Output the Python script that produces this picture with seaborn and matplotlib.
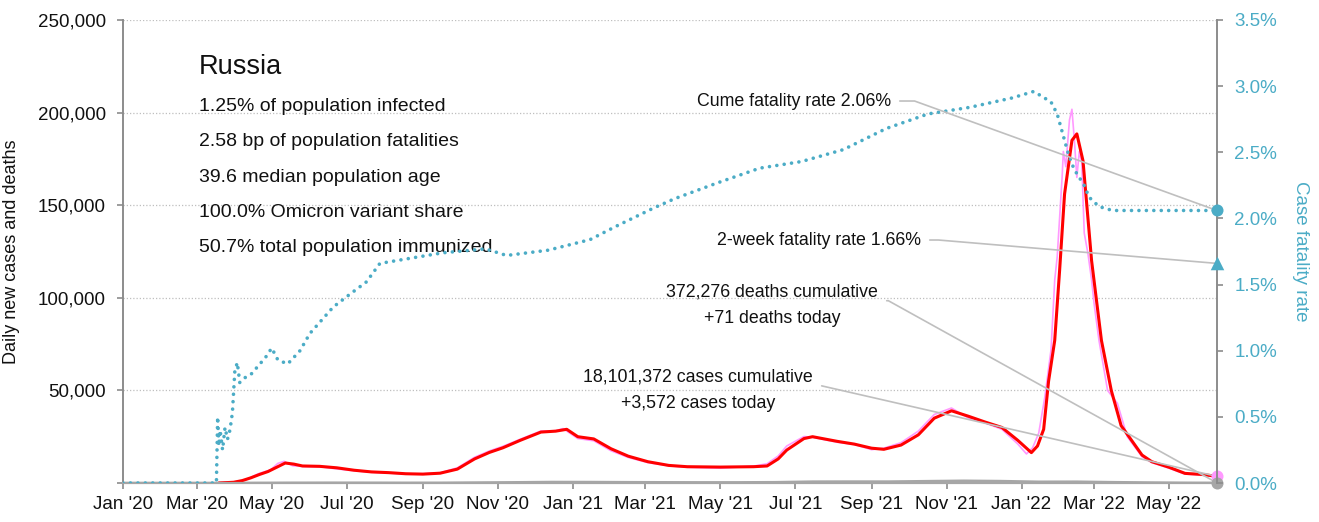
import matplotlib
matplotlib.use("Agg")
import matplotlib.pyplot as plt
import matplotlib.ticker as mticker
import matplotlib.dates as mdates
import pandas as pd
import seaborn as sns

# ---------------- data ----------------
country = "Russia"
stat_lines = [
    "1.25% of population infected",
    "2.58 bp of population fatalities",
    "39.6 median population age",
    "100.0% Omicron variant share",
    "50.7% total population immunized",
]

# 7-day average of daily new cases
avg_dates = [
    "2020-03-19", "2020-03-31", "2020-04-07", "2020-04-14", "2020-04-21", "2020-04-28",
    "2020-05-05", "2020-05-12", "2020-05-19", "2020-05-26", "2020-06-09", "2020-06-23",
    "2020-07-07", "2020-07-21", "2020-08-04", "2020-08-18", "2020-09-01", "2020-09-15",
    "2020-09-29", "2020-10-13", "2020-10-25", "2020-11-05", "2020-11-19", "2020-12-06",
    "2020-12-18", "2020-12-27", "2021-01-05", "2021-01-18", "2021-02-01", "2021-02-15",
    "2021-03-03", "2021-03-20", "2021-04-04", "2021-05-01", "2021-05-28", "2021-06-08",
    "2021-06-17", "2021-06-24", "2021-07-08", "2021-07-15", "2021-08-04", "2021-08-18",
    "2021-09-01", "2021-09-11", "2021-09-25", "2021-10-09", "2021-10-22", "2021-11-05",
    "2021-11-19", "2021-12-02", "2021-12-16", "2021-12-29", "2022-01-09", "2022-01-14",
    "2022-01-19", "2022-01-23", "2022-01-28", "2022-02-01", "2022-02-05", "2022-02-11",
    "2022-02-15", "2022-02-20", "2022-02-27", "2022-03-07", "2022-03-15", "2022-03-23",
    "2022-04-09", "2022-04-17", "2022-05-01", "2022-05-14", "2022-05-28", "2022-06-09",
]
avg_cases = [
    0, 400, 1300, 2800, 4600, 6200,
    8500, 10800, 10200, 9200, 9000, 8200,
    6900, 6000, 5600, 5000, 4800, 5300,
    7500, 13000, 16500, 19000, 23000, 27500,
    28000, 29000, 25000, 23800, 18500, 14500,
    11500, 9500, 8800, 8600, 8800, 9200,
    13000, 17800, 24000, 25000, 22500, 21000,
    18800, 18200, 20500, 26000, 35000, 39000,
    36000, 33000, 30000, 23000, 16400, 20000,
    29000, 55000, 77000, 115000, 156000, 185000,
    188500, 174000, 120000, 77000, 50000, 31000,
    15100, 11500, 8500, 5200, 4600, 3600,
]

# daily new cases as reported
daily_dates = [
    "2020-01-01", "2020-03-15", "2020-03-31", "2020-04-10", "2020-04-20", "2020-04-30",
    "2020-05-06", "2020-05-11", "2020-05-18", "2020-05-28", "2020-06-09", "2020-06-23",
    "2020-07-07", "2020-07-21", "2020-08-04", "2020-08-18", "2020-09-01", "2020-09-15",
    "2020-09-29", "2020-10-13", "2020-10-25", "2020-11-05", "2020-11-19", "2020-12-06",
    "2020-12-18", "2020-12-24", "2021-01-05", "2021-01-18", "2021-02-01", "2021-02-15",
    "2021-03-03", "2021-03-20", "2021-04-04", "2021-05-01", "2021-05-28", "2021-06-08",
    "2021-06-17", "2021-06-24", "2021-07-08", "2021-07-15", "2021-08-04", "2021-08-18",
    "2021-09-01", "2021-09-11", "2021-09-25", "2021-10-09", "2021-10-22", "2021-11-05",
    "2021-11-19", "2021-12-02", "2021-12-16", "2021-12-29", "2022-01-05", "2022-01-10",
    "2022-01-15", "2022-01-20", "2022-01-25", "2022-01-28", "2022-01-30", "2022-02-03",
    "2022-02-04", "2022-02-06", "2022-02-09", "2022-02-11", "2022-02-13", "2022-02-15",
    "2022-02-17", "2022-02-19", "2022-02-21", "2022-02-24", "2022-02-27", "2022-03-01",
    "2022-03-05", "2022-03-12", "2022-03-20", "2022-03-28", "2022-04-09", "2022-04-17",
    "2022-05-01", "2022-05-14", "2022-05-28", "2022-06-09",
]
daily_cases = [
    0, 0, 500, 1800, 5000, 7100,
    10600, 11700, 9300, 8900, 8800, 7600,
    6600, 5800, 5400, 4900, 5000, 5500,
    8200, 13900, 17300, 19800, 23600, 28100,
    28200, 29400, 24000, 22800, 17400, 13800,
    11000, 9300, 8500, 8000, 9100, 10400,
    14600, 20000, 25100, 24700, 22000, 20800,
    18000, 18800, 21800, 28000, 37000, 40500,
    35000, 32500, 29000, 21000, 15700, 19000,
    27000, 46600, 72000, 109600, 122000, 165000,
    179000, 170800, 196000, 201800, 185000, 165000,
    179000, 173000, 135000, 124000, 109600, 97000,
    77000, 50000, 43000, 25000, 14200, 11000,
    8000, 4800, 4400, 3572,
]

# daily new deaths
death_dates = [
    "2020-01-01", "2020-03-20", "2020-04-15", "2020-05-15", "2020-06-15", "2020-07-15",
    "2020-08-15", "2020-09-15", "2020-10-15", "2020-11-15", "2020-12-15", "2021-01-15",
    "2021-02-15", "2021-03-15", "2021-04-15", "2021-05-15", "2021-06-15", "2021-07-15",
    "2021-08-15", "2021-09-15", "2021-10-15", "2021-11-15", "2021-12-15", "2022-01-15",
    "2022-02-15", "2022-03-15", "2022-04-15", "2022-05-15", "2022-06-09",
]
daily_deaths = [
    0, 0, 50, 120, 150, 140,
    100, 110, 250, 390, 560, 530,
    450, 400, 360, 360, 450, 760,
    790, 780, 1000, 1220, 1050, 680,
    720, 470, 270, 110, 71,
]

# cumulative case fatality rate, percent
cfr_dates = [
    "2020-01-01", "2020-03-17", "2020-03-18", "2020-03-19", "2020-03-20", "2020-03-22",
    "2020-03-24", "2020-03-26", "2020-03-28", "2020-03-30", "2020-04-01", "2020-04-03",
    "2020-04-05", "2020-04-08", "2020-04-14", "2020-04-26", "2020-05-01", "2020-05-06",
    "2020-05-14", "2020-05-24", "2020-06-01", "2020-06-20", "2020-07-04", "2020-07-17",
    "2020-07-28", "2020-09-17", "2020-10-22", "2020-11-08", "2020-12-12", "2021-01-15",
    "2021-02-05", "2021-03-08", "2021-03-25", "2021-04-29", "2021-06-02", "2021-07-06",
    "2021-08-09", "2021-09-13", "2021-10-17", "2021-11-20", "2021-12-24", "2022-01-11",
    "2022-01-25", "2022-01-30", "2022-02-02", "2022-02-05", "2022-02-08", "2022-02-12",
    "2022-02-16", "2022-02-20", "2022-02-25", "2022-03-05", "2022-03-16", "2022-06-09",
]
cfr_pct = [
    0.0, 0.0, 0.50, 0.28, 0.40, 0.25,
    0.42, 0.33, 0.40, 0.53, 0.85, 0.91,
    0.76, 0.79, 0.82, 0.95, 1.02, 0.93,
    0.90, 1.00, 1.13, 1.33, 1.43, 1.52,
    1.66, 1.74, 1.77, 1.72, 1.76, 1.84,
    1.94, 2.08, 2.15, 2.27, 2.38, 2.43,
    2.52, 2.68, 2.79, 2.84, 2.91, 2.96,
    2.88, 2.79, 2.69, 2.59, 2.49, 2.39,
    2.32, 2.27, 2.16, 2.09, 2.06, 2.06,
]

cume_cfr = 2.06
two_week_cfr = 1.66
cases_total = 18101372
cases_today = 3572
deaths_total = 372276
deaths_today = 71
last_day = "2022-06-09"

# ---------------- style ----------------
BLUE = "#4BACC6"
RED = "#FF0000"
PINK = "#FF99FF"
SPINE = "#8C8C8C"
LEADER = "#BFBFBF"
DEATH_GRAY = "#A6A6A6"
INK = "#111111"

sns.set_style("white")
plt.rcParams["font.family"] = ["Liberation Sans", "DejaVu Sans"]
plt.rcParams["text.color"] = INK

fig = plt.figure(figsize=(13.19, 5.22), dpi=100)
ax = fig.add_axes([0.09325, 0.0747, 0.8294, 0.887])
ax2 = ax.twinx()

avg_df = pd.DataFrame({"date": pd.to_datetime(avg_dates), "cases": avg_cases})
daily_df = pd.DataFrame({"date": pd.to_datetime(daily_dates), "cases": daily_cases})
death_df = pd.DataFrame({"date": pd.to_datetime(death_dates), "deaths": daily_deaths})
cfr_df = pd.DataFrame({"date": pd.to_datetime(cfr_dates), "cfr": cfr_pct})

sns.lineplot(data=death_df, x="date", y="deaths", ax=ax, color=DEATH_GRAY, lw=1.8)
sns.lineplot(data=daily_df, x="date", y="cases", ax=ax, color=PINK, lw=1.2)
sns.lineplot(data=avg_df, x="date", y="cases", ax=ax, color=RED, lw=2.2)
sns.lineplot(data=cfr_df, x="date", y="cfr", ax=ax2, color=BLUE, lw=2.6)
cfr_line = ax2.lines[-1]
cfr_line.set_linestyle((0, (0.01, 2.05)))
cfr_line.set_dash_capstyle("round")

end = pd.Timestamp(last_day)
ax2.scatter([end], [cume_cfr], s=75, color=BLUE, zorder=6, clip_on=False, linewidths=0)
ax2.scatter([end], [two_week_cfr], s=95, marker="^", color=BLUE, zorder=6, clip_on=False, linewidths=0)
ax.scatter([end], [cases_today], s=75, color=PINK, zorder=6, clip_on=False, linewidths=0)
ax.scatter([end], [deaths_today], s=75, color=DEATH_GRAY, zorder=7, clip_on=False, linewidths=0)

# ---------------- axes ----------------
ax.set_xlim(pd.Timestamp("2020-01-01"), end)
ax.set_ylim(0, 250000)
ax2.set_ylim(0, 3.5)

ax.xaxis.set_major_locator(mdates.MonthLocator(bymonth=[1, 3, 5, 7, 9, 11]))
ax.xaxis.set_major_formatter(mdates.DateFormatter("%b '%y"))
ax.yaxis.set_major_locator(mticker.MultipleLocator(50000))
ax.yaxis.set_major_formatter(mticker.FuncFormatter(lambda v, p: "" if v == 0 else f"{v:,.0f}"))
ax2.yaxis.set_major_locator(mticker.MultipleLocator(0.5))
ax2.yaxis.set_major_formatter(mticker.FuncFormatter(lambda v, p: f"{v:.1f}%"))

ax.grid(axis="y", color="#BFBFBF", linestyle=(0, (1, 1.6)), lw=0.9)
ax.grid(axis="x", visible=False)
ax2.grid(False)
ax.set_axisbelow(True)

for s in ["top", "right"]:
    ax.spines[s].set_visible(False)
for s in ["top", "left", "bottom"]:
    ax2.spines[s].set_visible(False)
ax.spines["left"].set_color(SPINE)
ax.spines["left"].set_linewidth(1.4)
ax.spines["bottom"].set_color(DEATH_GRAY)
ax.spines["bottom"].set_linewidth(1.6)
ax2.spines["right"].set_color(SPINE)
ax2.spines["right"].set_linewidth(1.4)

ax.tick_params(axis="x", bottom=True, length=4.5, width=1.2, color=SPINE, pad=4.5,
               labelsize=13.5, labelcolor=INK)
ax.tick_params(axis="y", left=True, length=4.5, width=1.2, color=SPINE, pad=8,
               labelsize=13.5, labelcolor=INK)
ax2.tick_params(axis="y", right=True, length=4.5, width=1.2, color=SPINE, pad=8,
                labelsize=13.5, labelcolor=BLUE)

ax.set_xlabel("")
ax.set_ylabel("Daily new cases and deaths", fontsize=13, color=INK)
ax.yaxis.set_label_coords(-0.094, 0.5)
ax2.set_ylabel("Case fatality rate", fontsize=13.5, color=BLUE, rotation=270, va="center")
ax2.yaxis.set_label_coords(1.0759, 0.5)

# ---------------- text block ----------------
ax.text(0.0695, 0.8985, country, transform=ax.transAxes, fontsize=19.5,
        ha="left", va="center")
for i, line in enumerate(stat_lines):
    ax.text(0.0695, 0.8121 - i * 0.0756, line, transform=ax.transAxes,
            fontsize=14, ha="left", va="center")


def leader(axis, text, xy, xytext, angle, relpos, ha="right"):
    axis.annotate(
        text, xy=xy, xycoords="data", xytext=xytext, textcoords="axes fraction",
        ha=ha, va="center", multialignment="center", fontsize=12.8, linespacing=1.7,
        annotation_clip=False, zorder=5,
        arrowprops=dict(arrowstyle="-", color=LEADER, lw=1.2, shrinkA=4, shrinkB=0,
                        relpos=relpos,
                        connectionstyle=f"angle,angleA=0,angleB={angle},rad=0"),
    )


leader(ax2, f"Cume fatality rate {cume_cfr:.2f}%", (end, cume_cfr), (0.702, 0.825),
       -19.9, (1.0, 0.5))
leader(ax2, f"2-week fatality rate {two_week_cfr:.2f}%", (end, two_week_cfr),
       (0.7294, 0.5248), -4.8, (1.0, 0.5))
leader(ax, f"{deaths_total:,} deaths cumulative\n+{deaths_today:,} deaths today",
       (end, deaths_today), (0.5932, 0.3844), -29.0, (1.0, 0.6), ha="center")
leader(ax, f"{cases_total:,} cases cumulative\n+{cases_today:,} cases today",
       (end, cases_today), (0.5256, 0.2009), -12.9, (1.0, 0.6), ha="center")

fig.savefig("out.png", dpi=100)
